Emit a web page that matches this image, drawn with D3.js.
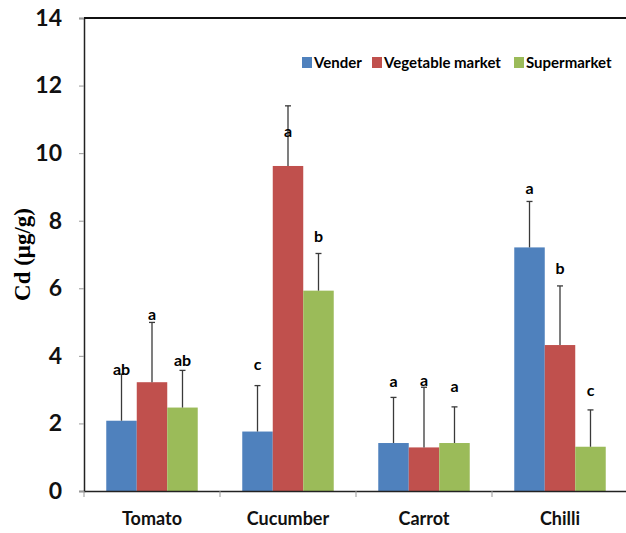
<!DOCTYPE html>
<html>
<head>
<meta charset="utf-8">
<script src="https://cdn.jsdelivr.net/npm/d3@7"></script>
<style>
  body { margin: 0; background: #fff; }
  svg { display: block; }
  .narrow { font-family: Lato, "Open Sans", sans-serif; font-weight: bold; }
</style>
</head>
<body>
<div class="chart"></div>
<script>
// data
const crops = ["Tomato", "Cucumber", "Carrot", "Chilli"];
const sources = ["Vender", "Vegetable market", "Supermarket"];
const colours = ["#4F81BD", "#C0504D", "#9BBB59"];

const vender     = [2.08, 1.76, 1.42, 7.21];
const vegMarket  = [3.22, 9.62, 1.29, 4.32];
const superMkt   = [2.47, 5.93, 1.42, 1.31];

const venderErr    = [3.46, 3.12, 2.77, 8.57];
const vegMarketErr = [4.99, 11.40, 3.07, 6.07];
const superMktErr  = [3.57, 7.03, 2.49, 2.40];

const venderLetter    = ["ab", "c", "a", "a"];
const vegMarketLetter = ["a", "a", "a", "b"];
const superMktLetter  = ["ab", "b", "a", "c"];

// height (in µg/g) where each letter sits
const venderLetterAt    = [3.61, 3.76, 3.23, 8.97];
const vegMarketLetterAt = [5.24, 10.63, 3.28, 6.60];
const superMktLetterAt  = [3.88, 7.55, 3.09, 2.97];

const yTicks = [0, 2, 4, 6, 8, 10, 12, 14];

let width = 626, height = 533;
const margin = {top: 18, right: -2, bottom: 42, left: 84};

let svg = d3.select(".chart").append("svg")
  .attr("width", width)
  .attr("height", height);

let x0 = d3.scaleBand()
  .domain(crops)
  .range([margin.left, width - margin.right]);

let x1 = d3.scaleBand()
  .domain(sources)
  .range([0, x0.bandwidth()])
  .paddingOuter(0.73);

let y = d3.scaleLinear()
  .domain([0, 14])
  .range([height - margin.bottom, margin.top]);

let rows = [];
[[vender, venderErr, venderLetter, venderLetterAt],
 [vegMarket, vegMarketErr, vegMarketLetter, vegMarketLetterAt],
 [superMkt, superMktErr, superMktLetter, superMktLetterAt]].forEach((s, si) => {
  crops.forEach((c, ci) => {
    rows.push({crop: c, src: sources[si], colour: colours[si],
      value: s[0][ci], err: s[1][ci], letter: s[2][ci], letterAt: s[3][ci]});
  });
});

// bars
svg.selectAll("rect.bar")
  .data(rows)
  .enter()
  .append("rect")
  .attr("class", "bar")
  .attr("x", d => x0(d.crop) + x1(d.src))
  .attr("width", x1.bandwidth())
  .attr("y", d => y(d.value))
  .attr("height", d => y(0) - y(d.value))
  .style("fill", d => d.colour);

// error bars (upper only)
let eb = svg.selectAll("g.err")
  .data(rows)
  .enter()
  .append("g")
  .attr("class", "err")
  .attr("stroke", "#3a3a3a")
  .attr("stroke-width", 1.3);

eb.append("line")
  .attr("x1", d => x0(d.crop) + x1(d.src) + x1.bandwidth() / 2)
  .attr("x2", d => x0(d.crop) + x1(d.src) + x1.bandwidth() / 2)
  .attr("y1", d => y(d.value))
  .attr("y2", d => y(d.err));

eb.append("line")
  .attr("x1", d => x0(d.crop) + x1(d.src) + x1.bandwidth() / 2 - 3)
  .attr("x2", d => x0(d.crop) + x1(d.src) + x1.bandwidth() / 2 + 3)
  .attr("y1", d => y(d.err))
  .attr("y2", d => y(d.err));

// significance letters
svg.selectAll("text.letter")
  .data(rows)
  .enter()
  .append("text")
  .attr("class", "letter narrow")
  .attr("x", d => x0(d.crop) + x1(d.src) + x1.bandwidth() / 2)
  .attr("y", d => y(d.letterAt))
  .attr("dy", "0.35em")
  .style("text-anchor", "middle")
  .style("font-size", "16px")
  .text(d => d.letter);

// y axis
let yAxis = d3.axisLeft(y)
  .tickValues(yTicks)
  .tickSize(5)
  .tickPadding(17);

let gy = svg.append("g")
  .attr("transform", `translate(${margin.left},0)`)
  .call(yAxis);
gy.select(".domain").attr("stroke", "#222").attr("stroke-width", 1.5);
gy.selectAll(".tick line").attr("stroke", "#999");
gy.selectAll(".tick text")
  .attr("class", "narrow")
  .style("font-size", "23px")
  .attr("fill", "#111");

// x axis
let xAxis = d3.axisBottom(x0)
  .tickSize(0)
  .tickPadding(21);

let gx = svg.append("g")
  .attr("transform", `translate(0,${y(0)})`)
  .call(xAxis);
gx.select(".domain").attr("stroke", "#222").attr("stroke-width", 1.5);
gx.selectAll(".tick text")
  .attr("class", "narrow")
  .style("font-size", "18px")
  .attr("fill", "#111");

// group separators below the axis
svg.selectAll("line.sep")
  .data(crops)
  .enter()
  .append("line")
  .attr("class", "sep")
  .attr("x1", d => x0(d))
  .attr("x2", d => x0(d))
  .attr("y1", y(0))
  .attr("y2", y(0) + 6)
  .attr("stroke", "#999");

// top frame line
svg.append("line")
  .attr("x1", margin.left)
  .attr("x2", width)
  .attr("y1", y(14))
  .attr("y2", y(14))
  .attr("stroke", "#111")
  .attr("stroke-width", 2);

// y title
svg.append("text")
  .attr("transform", `translate(30,${(y(0) + y(14)) / 2}) rotate(-90)`)
  .style("text-anchor", "middle")
  .style("font-family", "'Liberation Serif', 'DejaVu Serif', serif")
  .style("font-weight", "bold")
  .style("font-size", "23px")
  .text("Cd (μg/g)");

// legend
const legendX = [302, 372, 514];
let lg = svg.selectAll("g.legend")
  .data(sources)
  .enter()
  .append("g")
  .attr("class", "legend")
  .attr("transform", (d, i) => `translate(${legendX[i]},57)`);

lg.append("rect")
  .attr("width", 10)
  .attr("height", 11)
  .style("fill", (d, i) => colours[i]);

lg.append("text")
  .attr("class", "narrow")
  .attr("x", 12)
  .attr("y", 6)
  .attr("dy", "0.35em")
  .style("font-size", "15px")
  .text(d => d);
</script>
</body>
</html>
